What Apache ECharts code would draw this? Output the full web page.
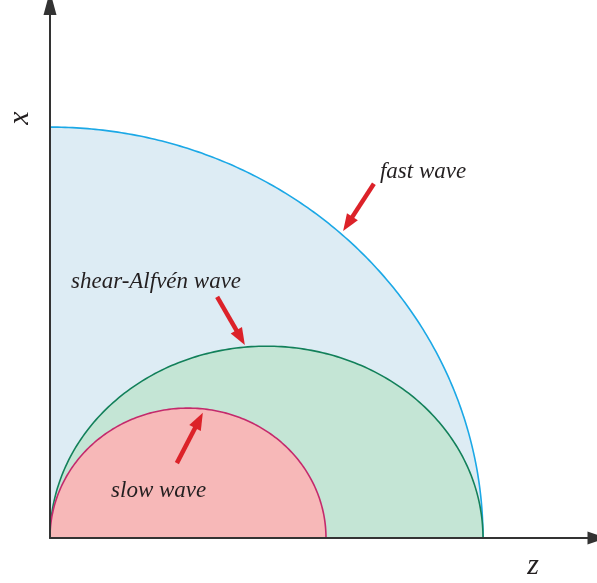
<!DOCTYPE html>
<html>
<head>
<meta charset="utf-8">
<script src="https://cdn.jsdelivr.net/npm/echarts@6/dist/echarts.min.js"></script>
<style>
  html, body { margin: 0; padding: 0; background: #fff; }
  #chart { width: 597px; height: 583px; }
</style>
</head>
<body>
<div id="chart"></div>
<script>
// Group-velocity surfaces (normalised to the fast-wave speed along z)
const waveNames = ['fast wave', 'shear-Alfvén wave', 'slow wave'];
const centerZ   = [0,    0.5,   0.3187];
const radiusZ   = [1.0,  0.5,   0.3187];
const radiusX   = [0.949, 0.443, 0.300];
const sweepDeg  = [90,   180,   180];

// Label anchors [z, x] and arrow tail/tip [z0, x0, z1, x1]
const labelPos  = [[0.762, 0.845], [0.0485, 0.591], [0.141, 0.1085]];
const arrowPos  = [[0.748, 0.818, 0.677, 0.709],
                   [0.386, 0.557, 0.450, 0.446],
                   [0.293, 0.173, 0.353, 0.289]];

const fillColors   = ['#ddecf4', '#c4e5d5', '#f7b8b8'];
const strokeColors = ['#1ba8e6', '#12805a', '#c42a6c'];
const arrowColor   = '#dc2229';
const textFont     = '"Liberation Serif", "DejaVu Serif", serif';

const chart = echarts.init(document.getElementById('chart'), null, { renderer: 'canvas' });

const surfaceData = waveNames.map((n, i) => [centerZ[i], radiusZ[i], radiusX[i], sweepDeg[i], i]);

function renderSurface(params, api) {
  const cz = api.value(0), rz = api.value(1), rx = api.value(2), sweep = api.value(3), idx = api.value(4);
  const pts = [];
  const steps = 180;
  for (let k = 0; k <= steps; k++) {
    const t = (sweep * k / steps) * Math.PI / 180;
    pts.push(api.coord([cz + rz * Math.cos(t), rx * Math.sin(t)]));
  }
  if (sweep < 180) pts.push(api.coord([0, 0]));
  return {
    type: 'group',
    children: [
      { type: 'polygon', shape: { points: pts }, style: { fill: fillColors[idx], stroke: null } },
      { type: 'polyline', shape: { points: sweep < 180 ? pts.slice(0, -1) : pts },
        style: { stroke: strokeColors[idx], lineWidth: 1.6, fill: null } }
    ]
  };
}

function renderArrow(params, api) {
  const a = api.coord([api.value(0), api.value(1)]);
  const b = api.coord([api.value(2), api.value(3)]);
  const dx = b[0] - a[0], dy = b[1] - a[1];
  const len = Math.sqrt(dx * dx + dy * dy);
  const ux = dx / len, uy = dy / len;
  const headLen = 17, headW = 6.5;
  const base = [b[0] - ux * headLen, b[1] - uy * headLen];
  return {
    type: 'group',
    children: [
      { type: 'line', shape: { x1: a[0], y1: a[1], x2: base[0] + ux * 4, y2: base[1] + uy * 4 },
        style: { stroke: arrowColor, lineWidth: 4.5 } },
      { type: 'polygon', shape: { points: [
          b,
          [base[0] - uy * headW, base[1] + ux * headW],
          [base[0] + uy * headW, base[1] - ux * headW]
        ] }, style: { fill: arrowColor } }
    ]
  };
}

function renderLabel(params, api) {
  const p = api.coord([api.value(0), api.value(1)]);
  return {
    type: 'text',
    x: p[0], y: p[1],
    style: {
      text: waveNames[params.dataIndex],
      fill: '#231f20',
      font: 'italic 23px ' + textFont,
      align: 'left', verticalAlign: 'middle'
    }
  };
}

chart.setOption({
  animation: false,
  grid: { left: 50, right: 0, top: 3, bottom: 45, containLabel: false },
  xAxis: {
    type: 'value', min: 0, max: 1.2633, z: 10,
    axisLine: { show: true, symbol: ['none', 'triangle'], symbolSize: [13, 19],
                lineStyle: { color: '#333333', width: 2 } },
    axisTick: { show: false }, axisLabel: { show: false }, splitLine: { show: false }
  },
  yAxis: {
    type: 'value', min: 0, max: 1.2356, z: 10,
    axisLine: { show: true, symbol: ['none', 'triangle'], symbolSize: [13, 24],
                lineStyle: { color: '#333333', width: 2 } },
    axisTick: { show: false }, axisLabel: { show: false }, splitLine: { show: false }
  },
  graphic: [
    { type: 'text', x: 20, y: 118, rotation: Math.PI / 2, z: 10,
      style: { text: 'x', font: 'italic 30px ' + textFont, fill: '#231f20',
               align: 'center', verticalAlign: 'middle' } },
    { type: 'text', x: 533, y: 566, z: 10,
      style: { text: 'z', font: 'italic 30px ' + textFont, fill: '#231f20',
               align: 'center', verticalAlign: 'middle' } }
  ],
  series: [
    { type: 'custom', renderItem: renderSurface, data: surfaceData, z: 1, clip: false },
    { type: 'custom', renderItem: renderArrow, data: arrowPos, z: 3, clip: false },
    { type: 'custom', renderItem: renderLabel, data: labelPos, z: 3, clip: false }
  ]
});
</script>
</body>
</html>
